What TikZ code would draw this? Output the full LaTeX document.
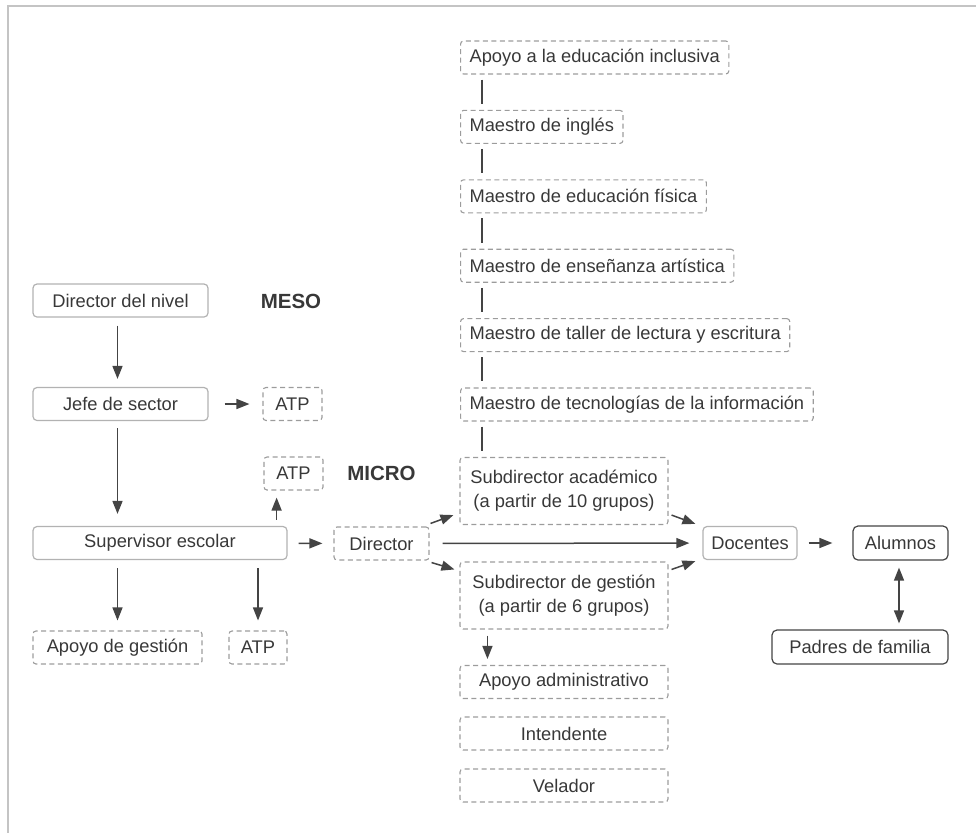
\documentclass[tikz,border=0pt]{standalone}
\usepackage{fontspec}
\setmainfont{Liberation Sans}
\usetikzlibrary{arrows.meta}
\definecolor{txtgray}{HTML}{383838}
\definecolor{lingray}{HTML}{444444}
\definecolor{boxgray}{HTML}{B2B2B2}
\definecolor{dashgray}{HTML}{9C9C9C}
\definecolor{framegray}{HTML}{C4C4C4}

\begin{document}
\begin{tikzpicture}[x=1pt, y=-1pt,
    every node/.style={font=\fontsize{18.3}{24}\selectfont, text=txtgray, inner sep=0pt},
    solidbox/.style={draw=boxgray, line width=1.2pt, rounded corners=4pt, minimum height=33pt},
    darkbox/.style={draw=lingray, line width=1.2pt, rounded corners=5pt, minimum height=34pt},
    dashbox/.style={draw=dashgray, line width=1.1pt, dash pattern=on 5pt off 3.5pt, rounded corners=3pt, minimum height=33pt},
    listbox/.style={dashbox, anchor=west, inner xsep=9pt},
    level/.style={font=\fontsize{20.5}{24}\selectfont\bfseries},
    arr/.style={draw=lingray, line width=1.5pt, -{Triangle[length=13pt, width=10pt]}},
    darr/.style={arr, {Triangle[length=13pt, width=10pt]}-{Triangle[length=13pt, width=10pt]}},
    link/.style={draw=lingray, line width=1.5pt}]
    \useasboundingbox (0,0) rectangle (976,833);
    \draw[framegray, line width=2pt] (976,6) -- (8,6) -- (8,833);

    \node[solidbox, minimum width=175pt] (dirnivel) at (120.5,300.5) {Director del nivel};
    \node[level] (meso) at (291,301) {MESO};
    \node[solidbox, minimum width=175pt] (jefe) at (120.5,404) {Jefe de sector};
    \node[dashbox, minimum width=59pt] (atpjefe) at (292.5,404) {ATP};
    \node[dashbox, minimum width=59pt] (atpmicro) at (293.5,473.5) {ATP};
    \node[level] (micro) at (381.5,473) {MICRO};
    \node[solidbox, minimum width=254pt] (superv) at (160,543) {Supervisor escolar};
    \node[dashbox, minimum width=95pt] (director) at (381.5,543.5) {Director};
    \node[dashbox, minimum width=169pt] (apgest) at (117.5,647.5) {Apoyo de gestión};
    \node[dashbox, minimum width=58pt] (atpsup) at (258,647.5) {ATP};

    \node[listbox] (inclus) at (460,57.5) {Apoyo a la educación inclusiva\hspace{9pt}};
    \node[listbox] (ingles) at (460,126.9) {Maestro de inglés\hspace{9pt}};
    \node[listbox] (fisica) at (460,196.3) {Maestro de educación física\hspace{9pt}};
    \node[listbox] (artist) at (460,265.7) {Maestro de enseñanza artística\hspace{9pt}};
    \node[listbox] (taller) at (460,335.1) {Maestro de taller de lectura y escritura\hspace{9pt}};
    \node[listbox] (tecno) at (460,404.5) {Maestro de tecnologías de la información\hspace{9pt}};
    \node[dashbox, minimum width=208pt, minimum height=67pt, align=center] (subacad) at (564,491) {Subdirector académico\\(a partir de 10 grupos)};
    \node[dashbox, minimum width=208pt, minimum height=67pt, align=center] (subgest) at (564,595.5) {Subdirector de gestión\\(a partir de 6 grupos)};
    \node[dashbox, minimum width=208pt] (apadmin) at (564,682) {Apoyo administrativo};
    \node[dashbox, minimum width=208pt] (intend) at (564,733.5) {Intendente};
    \node[dashbox, minimum width=208pt] (velador) at (564,785.5) {Velador};

    \node[solidbox, minimum width=94pt] (docentes) at (750,543) {Docentes};
    \node[darkbox, minimum width=95pt] (alumnos) at (900.5,543) {Alumnos};
    \node[darkbox, minimum width=176pt] (padres) at (860,647) {Padres de familia};

    \draw[arr, shorten <=8pt, shorten >=8pt] ([xshift=-3pt]dirnivel.south) -- ([xshift=-3pt]jefe.north);
    \draw[arr, shorten <=16pt, shorten >=13pt] (jefe) -- (atpjefe);
    \draw[arr, shorten <=7pt, shorten >=12pt] ([xshift=-3pt]jefe.south) -- ([xshift=-3pt]jefe.south |- superv.north);
    \draw[arr, shorten <=6pt, shorten >=7pt] ([xshift=-11pt]superv.north east) -- ([xshift=-11pt]superv.north east |- atpmicro.south);
    \draw[arr, shorten <=11pt, shorten >=11pt] (superv) -- (director);
    \draw[arr, shorten <=8pt, shorten >=10pt] (apgest.north |- superv.south) -- (apgest.north);
    \draw[arr, shorten <=8pt, shorten >=10pt] (atpsup.north |- superv.south) -- (atpsup.north);

    \draw[arr] ([shift={(1,-3)}]director.north east) -- ([shift={(-6,-10)}]subacad.south west);
    \draw[arr] ([shift={(2,2)}]director.south east) -- ([shift={(-5,8)}]subgest.north west);
    \draw[arr, shorten <=13pt, shorten >=13pt] (director) -- (docentes);
    \draw[arr] ([shift={(3,-10)}]subacad.south east) -- ([shift={(-7,-2)}]docentes.north west);
    \draw[arr] ([shift={(3,8)}]subgest.north east) -- ([shift={(-7,1)}]docentes.south west);
    \draw[arr, shorten <=11pt, shorten >=20pt] (docentes) -- (alumnos);
    \draw[darr, shorten <=7pt, shorten >=6pt] ([xshift=-1.5pt]alumnos.south) -- ([xshift=-1.5pt]alumnos.south |- padres.north);
    \draw[arr, shorten <=6pt, shorten >=6pt] ([xshift=28pt]subgest.south west) -- ([xshift=28pt]subgest.south west |- apadmin.north);

    \foreach \a/\b in {inclus/ingles, ingles/fisica, fisica/artist, artist/taller, taller/tecno, tecno/subacad}
        \draw[link, shorten <=5pt, shorten >=6pt] ([xshift=22pt]\a.south west) -- ([xshift=22pt]\a.south west |- \b.north);
\end{tikzpicture}
\end{document}
